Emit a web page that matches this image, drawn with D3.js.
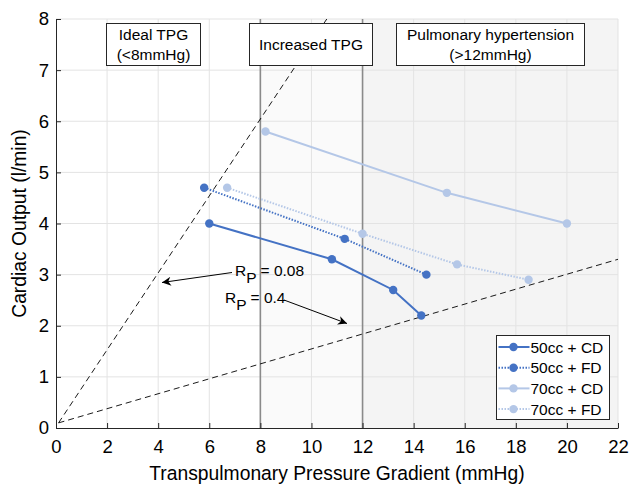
<!DOCTYPE html>
<head>
  <meta charset="utf-8">
  <script src="https://d3js.org/d3.v7.min.js"></script>
  <style>
    body { margin:0; background:#fff; }
    text { font-family: "Liberation Sans", Arial, sans-serif; fill:#000; }
  </style>
</head>
<body>
  <script>
  // ---------- data ----------
    var xTicks = [0,2,4,6,8,10,12,14,16,18,20,22];
    var yTicks = [0,1,2,3,4,5,6,7,8];

    var seriesNames = ["50cc + CD", "50cc + FD", "70cc + CD", "70cc + FD"];
    var s50CD = [[6.0,4.0],[10.8,3.3],[13.2,2.7],[14.3,2.2]];
    var s50FD = [[5.8,4.7],[11.3,3.7],[14.5,3.0]];
    var s70CD = [[8.2,5.8],[15.3,4.6],[20.0,4.0]];
    var s70FD = [[6.7,4.7],[12.0,3.8],[15.7,3.2],[18.5,2.9]];

    var rpLines = [[[0.1,0.1],[10.6,8]], [[0.1,0.1],[22,3.3]]];
    var regionBounds = [8, 12, 22];

  // ---------- svg / scales ----------
    var W = 630, H = 484;
    var m = {left:56, right:12, top:19, bottom:56};

    var svg = d3.select("body").append("svg")
      .attr("width", W)
      .attr("height", H);

    var x = d3.scaleLinear().domain([0,22]).range([m.left, W - m.right]);
    var y = d3.scaleLinear().domain([0,8]).range([H - m.bottom, m.top]);

    var dark = "#4472c4", light = "#b4c7e7";

  // ---------- shaded regions ----------
    svg.append("rect")
      .attr("x", x(regionBounds[0])).attr("y", y(8))
      .attr("width", x(regionBounds[1]) - x(regionBounds[0]))
      .attr("height", y(0) - y(8))
      .attr("fill", "#fafafa");
    svg.append("rect")
      .attr("x", x(regionBounds[1])).attr("y", y(8))
      .attr("width", x(regionBounds[2]) - x(regionBounds[1]))
      .attr("height", y(0) - y(8))
      .attr("fill", "#f4f4f4");

  // ---------- grid ----------
    svg.append("g").selectAll("line").data(xTicks.slice(1)).join("line")
      .attr("x1", d => x(d)).attr("x2", d => x(d))
      .attr("y1", y(0)).attr("y2", y(8))
      .attr("stroke", "#e3e3e3").attr("stroke-width", 1);
    svg.append("g").selectAll("line").data(yTicks.slice(1)).join("line")
      .attr("x1", x(0)).attr("x2", x(22))
      .attr("y1", d => y(d)).attr("y2", d => y(d))
      .attr("stroke", "#e3e3e3").attr("stroke-width", 1);

  // ---------- region borders ----------
    svg.append("g").selectAll("line").data(regionBounds.slice(0,2)).join("line")
      .attr("x1", d => x(d)).attr("x2", d => x(d))
      .attr("y1", y(0)).attr("y2", y(8))
      .attr("stroke", "#8a8a8a").attr("stroke-width", 1.6);

  // ---------- Rp lines ----------
    var line = d3.line().x(d => x(d[0])).y(d => y(d[1]));
    svg.append("g").selectAll("path").data(rpLines).join("path")
      .attr("d", line)
      .attr("fill", "none")
      .attr("stroke", "#000")
      .attr("stroke-width", 0.9)
      .attr("stroke-dasharray", "6,4");

  // ---------- axes ----------
    var xAxis = svg.append("g")
      .attr("transform", "translate(0," + y(0) + ")")
      .call(d3.axisBottom(x).tickValues(xTicks).tickSizeInner(-5).tickSizeOuter(0).tickPadding(12));
    var yAxis = svg.append("g")
      .attr("transform", "translate(" + x(0) + ",0)")
      .call(d3.axisLeft(y).tickValues(yTicks).tickSizeInner(-5).tickSizeOuter(0).tickPadding(7));
    [xAxis, yAxis].forEach(function(a) {
      a.select(".domain").attr("stroke", "#262626");
      a.selectAll(".tick line").attr("stroke", "#262626");
      a.selectAll(".tick text").attr("font-size", 18.5).attr("fill", "#000");
    });

    svg.append("text")
      .attr("x", (x(0) + x(22)) / 2).attr("y", 480)
      .attr("text-anchor", "middle").attr("font-size", 19.3)
      .text("Transpulmonary Pressure Gradient (mmHg)");
    svg.append("text")
      .attr("transform", "translate(26," + ((y(0) + y(8)) / 2) + ") rotate(-90)")
      .attr("text-anchor", "middle").attr("font-size", 19.3)
      .text("Cardiac Output (l/min)");

  // ---------- series ----------
    var series = [
      {name: seriesNames[0], pts: s50CD, color: dark, dash: null},
      {name: seriesNames[1], pts: s50FD, color: dark, dash: "1.5,1.5"},
      {name: seriesNames[2], pts: s70CD, color: light, dash: null},
      {name: seriesNames[3], pts: s70FD, color: light, dash: "1.5,1.5"}
    ];

    series.forEach(function(s) {
      svg.append("path")
        .attr("d", line(s.pts))
        .attr("fill", "none")
        .attr("stroke", s.color)
        .attr("stroke-width", 2)
        .attr("stroke-dasharray", s.dash);
      svg.append("g").selectAll("circle").data(s.pts).join("circle")
        .attr("cx", d => x(d[0])).attr("cy", d => y(d[1]))
        .attr("r", 4.2)
        .attr("fill", s.color);
    });

  // ---------- region labels ----------
    var boxes = [
      {x0: 106.5, x1: 200.5, lines: ["Ideal TPG", "(<8mmHg)"]},
      {x0: 249.5, x1: 372.5, lines: ["Increased TPG"]},
      {x0: 396.5, x1: 584.5, lines: ["Pulmonary hypertension", "(>12mmHg)"]}
    ];
    boxes.forEach(function(b) {
      svg.append("rect")
        .attr("x", b.x0).attr("y", 23.5)
        .attr("width", b.x1 - b.x0).attr("height", 42)
        .attr("fill", "#fff").attr("stroke", "#262626").attr("stroke-width", 1);
      var cx = (b.x0 + b.x1) / 2;
      if (b.lines.length == 2) {
        svg.append("text").attr("x", cx).attr("y", 40).attr("text-anchor", "middle")
          .attr("font-size", 15.5).text(b.lines[0]);
        svg.append("text").attr("x", cx).attr("y", 60).attr("text-anchor", "middle")
          .attr("font-size", 15.5).text(b.lines[1]);
      } else {
        svg.append("text").attr("x", cx).attr("y", 50).attr("text-anchor", "middle")
          .attr("font-size", 15.5).text(b.lines[0]);
      }
    });

  // ---------- Rp annotations ----------
    var defs = svg.append("defs");
    defs.append("marker")
      .attr("id", "arrow")
      .attr("viewBox", "0 0 10 10")
      .attr("refX", 10).attr("refY", 5)
      .attr("markerWidth", 11).attr("markerHeight", 9)
      .attr("markerUnits", "userSpaceOnUse")
      .attr("orient", "auto")
      .append("path")
      .attr("d", "M0,0 L10,5 L0,10 L3,5 Z")
      .attr("fill", "#000");

    svg.append("line")
      .attr("x1", 232).attr("y1", 272.5).attr("x2", 162).attr("y2", 282.5)
      .attr("stroke", "#000").attr("stroke-width", 1).attr("marker-end", "url(#arrow)");
    svg.append("line")
      .attr("x1", 284).attr("y1", 300).attr("x2", 347).attr("y2", 323.5)
      .attr("stroke", "#000").attr("stroke-width", 1).attr("marker-end", "url(#arrow)");

    var t1 = svg.append("text").attr("x", 235).attr("y", 276).attr("font-size", 15.5);
    t1.append("tspan").text("R");
    t1.append("tspan").attr("dy", 7).text("P");
    t1.append("tspan").attr("dy", -7).text(" = 0.08");

    var t2 = svg.append("text").attr("x", 225).attr("y", 303).attr("font-size", 15.5);
    t2.append("tspan").text("R");
    t2.append("tspan").attr("dy", 7).text("P");
    t2.append("tspan").attr("dy", -7).text(" = 0.4");

  // ---------- legend ----------
    var lg = svg.append("g").attr("transform", "translate(496.5,335.5)");
    lg.append("rect")
      .attr("width", 113).attr("height", 84)
      .attr("fill", "#fff").attr("stroke", "#262626").attr("stroke-width", 1);
    series.forEach(function(s, i) {
      var ry = 11.5 + i * 20.7;
      lg.append("line")
        .attr("x1", 2).attr("x2", 33).attr("y1", ry).attr("y2", ry)
        .attr("stroke", s.color).attr("stroke-width", 2)
        .attr("stroke-dasharray", s.dash);
      lg.append("circle").attr("cx", 17).attr("cy", ry).attr("r", 4.2).attr("fill", s.color);
      lg.append("text").attr("x", 34).attr("y", ry + 5.5)
        .attr("font-size", 15.5).text(s.name);
    });
  </script>
</body>
